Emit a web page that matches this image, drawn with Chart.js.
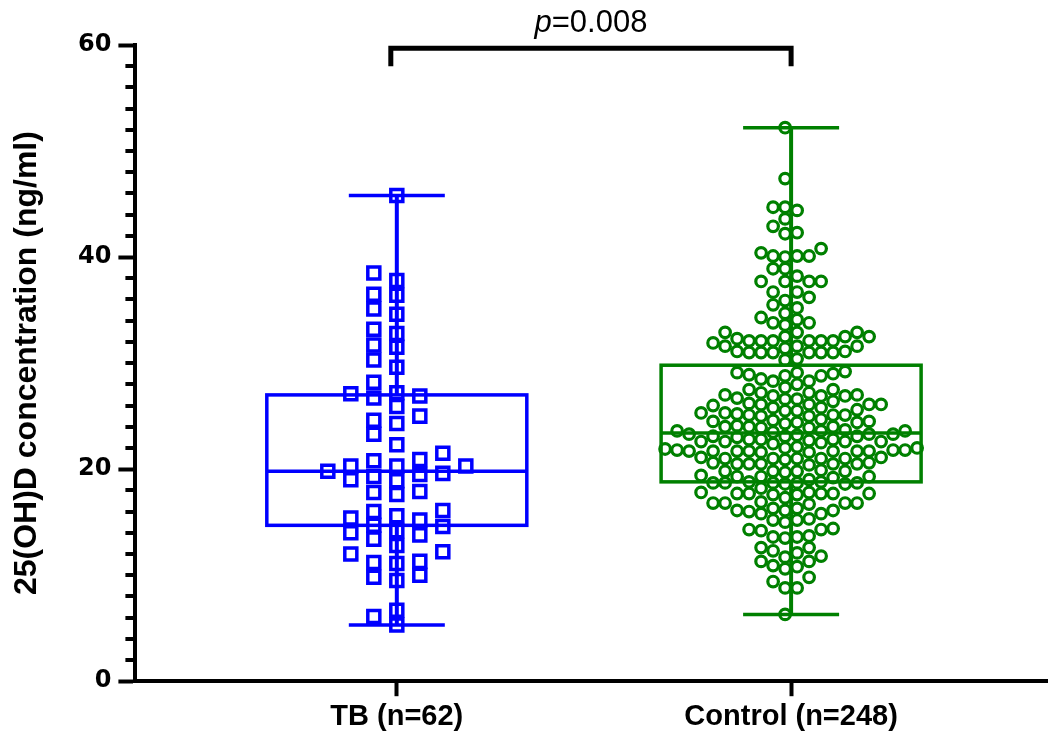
<!DOCTYPE html>
<html>
<head>
<meta charset="utf-8">
<script src="https://cdn.jsdelivr.net/npm/chart.js@4.4.0/dist/chart.umd.min.js"></script>
<style>
    html, body { margin: 0; padding: 0; background: #ffffff; }
    #wrap { width: 1049px; height: 737px; }
</style>
</head>
<body>
<div id="wrap"><canvas id="chartVitD" width="1049" height="737"></canvas></div>
<script>
const groups = ["TB (n=62)", "Control (n=248)"];
const groupColors = ["#0000ff", "#008000"];
const yTicks = [0, 20, 40, 60];
const pValue = "0.008";

// min, q1, median, q3, max
const tbBox = [5.3, 14.7, 19.8, 27.0, 45.8];
const controlBox = [6.3, 18.8, 23.4, 29.8, 52.2];

const tbValues = [
    45.8, 38.5, 37.8, 36.5, 36.4, 35.1, 34.6, 33.2, 32.8, 31.7,
    31.5, 30.3, 29.6, 28.2, 27.2, 27.1, 26.9, 26.7, 25.9, 25.0,
    24.6, 24.3, 23.3, 22.3, 21.5, 20.9, 20.8, 20.3, 20.3, 20.3,
    19.8, 19.6, 19.5, 19.3, 19.0, 18.9, 17.9, 17.8, 17.6, 16.1,
    16.0, 15.6, 15.4, 15.2, 14.7, 14.6, 14.2, 14.0, 13.8, 13.4,
    12.8, 12.2, 12.0, 11.3, 11.2, 11.1, 10.0, 9.8, 9.5, 6.7,
    6.1, 5.3
];

const controlValues = [
    52.2, 47.4, 44.7, 44.7, 44.4, 43.6, 42.9, 42.3, 42.2, 40.8,
    40.4, 40.1, 40.1, 40.1, 40.0, 38.9, 38.9, 38.2, 37.7, 37.7,
    37.7, 37.7, 36.7, 36.7, 36.2, 35.9, 35.5, 35.2, 34.7, 34.3,
    34.1, 33.8, 33.8, 33.6, 32.9, 32.9, 32.9, 32.5, 32.5, 32.5,
    32.3, 32.1, 32.1, 32.1, 32.1, 32.1, 32.1, 31.9, 31.6, 31.6,
    31.6, 31.4, 31.1, 31.1, 31.0, 31.0, 31.0, 31.0, 31.0, 31.0,
    30.4, 30.3,
    29.1, 29.1, 29.2, 29.0, 28.8, 28.8, 28.9, 28.5, 28.3, 28.3,
    28.0, 27.7, 27.5, 27.5, 27.2, 27.2, 27.0, 27.0, 26.9, 26.9,
    26.9, 26.6, 26.6, 26.7, 26.4, 26.1, 26.1, 26.2, 26.1, 26.0,
    26.1, 25.8, 25.8, 25.5, 25.5, 25.6, 25.3, 25.3, 25.2, 25.1,
    25.1, 25.1, 25.0, 25.0, 24.7, 24.5, 24.5, 24.6, 24.4, 24.4,
    24.3, 24.0, 24.0, 24.1, 24.0, 23.9, 23.9, 23.6, 23.6, 23.7,
    23.6, 23.5,
    23.3, 23.3, 23.3, 23.1, 23.1, 23.2, 23.1, 23.0, 22.8, 22.8,
    22.8, 22.6, 22.6, 22.7, 22.6, 22.5, 22.6, 22.4, 22.0, 22.0,
    22.1, 21.9, 21.7, 21.7, 21.8, 21.6, 21.7, 21.7, 21.8, 21.7,
    21.6, 21.7, 21.7, 21.8, 21.0, 21.0, 21.1, 20.9, 21.0, 21.0,
    21.1, 21.0, 20.5, 20.5, 20.6, 20.4, 20.5, 20.5, 20.5, 20.6,
    19.8, 19.8, 19.9, 19.7, 19.8, 19.8, 19.3, 19.3, 19.4, 19.2,
    19.3, 19.0,
    18.7, 18.7, 18.8, 18.6, 18.7, 18.7, 18.8, 18.6, 18.7, 18.2,
    17.7, 17.7, 17.8, 17.6, 17.7, 17.7, 17.8, 17.6, 17.7, 17.3,
    16.8, 16.8, 16.9, 16.7, 16.8, 16.8, 16.3, 16.3, 16.1, 16.1,
    16.0, 16.1, 15.8, 15.8, 15.2, 15.2, 15.3, 15.0, 14.3, 14.3,
    14.4, 14.2, 13.6, 13.6, 13.7, 13.5, 12.6, 12.6, 12.3, 12.1,
    11.8, 11.7, 11.3, 11.3, 10.9, 10.8, 10.6, 9.8, 9.4, 8.8,
    8.8, 6.3
];

// column beeswarm: each point takes the nearest free column
function swarm(values, center, stepX, gapY, halfColumns) {

    const cols = [];

    for (let k = 0; k < 40; k++) {
        if (halfColumns) {
            cols.push(-(k + 0.5), k + 0.5);
        } else if (k === 0) {
            cols.push(0);
        } else {
            cols.push(-k, k);
        }
    }

    const placed = [];

    return values.slice().sort((a, b) => a - b).map(v => {

        let col = cols[cols.length - 1];

        for (const c of cols) {
            const hit = placed.some(
                p => p.col === c && Math.abs(p.y - v) < gapY
            );
            if (!hit) {
                col = c;
                break;
            }
        }

        placed.push({ col: col, y: v });

        return { x: center + col * stepX, y: v };
    });
}

function strokeLine(ctx, x1, y1, x2, y2) {
    ctx.beginPath();
    ctx.moveTo(x1, y1);
    ctx.lineTo(x2, y2);
    ctx.stroke();
}

const boxPlugin = {
    id: "boxes",
    beforeDatasetsDraw(chart) {

        const ctx = chart.ctx;
        const x = chart.scales.x;
        const y = chart.scales.y;

        [tbBox, controlBox].forEach((stats, i) => {

            const cx = x.getPixelForValue(i + 1);
            const [lo, q1, med, q3, hi] = stats.map(v => y.getPixelForValue(v));

            ctx.save();
            ctx.strokeStyle = groupColors[i];
            ctx.lineWidth = 3.5;
            ctx.lineCap = "butt";

            ctx.strokeRect(cx - 130, q3, 260, q1 - q3);
            strokeLine(ctx, cx - 130, med, cx + 130, med);

            ctx.lineWidth = 4;
            strokeLine(ctx, cx, q1, cx, lo);
            strokeLine(ctx, cx, q3, cx, hi);

            ctx.lineWidth = 3.5;
            strokeLine(ctx, cx - 48, lo, cx + 48, lo);
            strokeLine(ctx, cx - 48, hi, cx + 48, hi);

            ctx.restore();
        });
    }
};

const extrasPlugin = {
    id: "extras",
    afterDraw(chart) {

        const ctx = chart.ctx;
        const x = chart.scales.x;
        const y = chart.scales.y;
        const left = chart.chartArea.left;

        ctx.save();
        ctx.strokeStyle = "#000000";
        ctx.lineWidth = 4;

        // minor ticks every 2
        for (let v = 2; v < 60; v += 2) {
            if (v % 20 === 0) continue;
            const py = Math.round(y.getPixelForValue(v));
            strokeLine(ctx, left - 10, py, left, py);
        }

        // significance bracket
        const x1 = x.getPixelForValue(1) - 6;
        const x2 = x.getPixelForValue(2);
        const yTop = y.getPixelForValue(59.7);
        const yLeg = y.getPixelForValue(58.0);

        ctx.lineWidth = 5;
        ctx.lineJoin = "miter";
        ctx.beginPath();
        ctx.moveTo(x1, yLeg);
        ctx.lineTo(x1, yTop);
        ctx.lineTo(x2, yTop);
        ctx.lineTo(x2, yLeg);
        ctx.stroke();

        const italic = "italic 31px 'Liberation Sans', Arial, sans-serif";
        const normal = "31px 'Liberation Sans', Arial, sans-serif";
        const rest = "=" + pValue;

        ctx.font = italic;
        const wP = ctx.measureText("p").width;
        ctx.font = normal;
        const wRest = ctx.measureText(rest).width;

        const tx = (x1 + x2) / 2 - (wP + wRest) / 2;
        const ty = y.getPixelForValue(61.2);

        ctx.fillStyle = "#000000";
        ctx.textBaseline = "alphabetic";
        ctx.textAlign = "left";
        ctx.font = italic;
        ctx.fillText("p", tx, ty);
        ctx.font = normal;
        ctx.fillText(rest, tx + wP, ty);

        ctx.restore();
    }
};

Chart.defaults.font.family = "'Liberation Sans', Arial, sans-serif";
Chart.defaults.color = "#000000";

const chart = new Chart(
    document.getElementById("chartVitD"),
    {
        type: "scatter",

        data: {
            datasets: [
                {
                    label: groups[0],
                    data: [],
                    pointStyle: "rect",
                    pointRadius: 8.5,
                    pointBorderWidth: 3.5,
                    pointBorderColor: groupColors[0],
                    pointBackgroundColor: "rgba(0,0,0,0)",
                    pointHoverRadius: 8.5
                },
                {
                    label: groups[1],
                    data: [],
                    pointStyle: "circle",
                    pointRadius: 5.3,
                    pointBorderWidth: 3.2,
                    pointBorderColor: groupColors[1],
                    pointBackgroundColor: "rgba(0,0,0,0)",
                    pointHoverRadius: 5.3
                }
            ]
        },

        options: {
            responsive: false,
            animation: false,
            devicePixelRatio: 1,

            layout: {
                autoPadding: false,
                padding: { left: 0, right: 2, top: 45, bottom: 0 }
            },

            plugins: {
                legend: { display: false },
                tooltip: { enabled: false }
            },

            scales: {
                x: {
                    type: "linear",
                    min: 0.337,
                    max: 2.649,
                    afterBuildTicks: scale => {
                        scale.ticks = [{ value: 1 }, { value: 2 }];
                    },
                    ticks: {
                        callback: v => groups[v - 1],
                        font: { size: 29, weight: "bold" },
                        color: "#000000",
                        padding: 3,
                        maxRotation: 0
                    },
                    grid: {
                        drawOnChartArea: false,
                        tickLength: 15,
                        tickWidth: 4,
                        tickColor: "#000000"
                    },
                    border: { width: 4, color: "#000000" }
                },
                y: {
                    min: 0,
                    max: 60,
                    afterBuildTicks: scale => {
                        scale.ticks = yTicks.map(v => ({ value: v }));
                    },
                    ticks: {
                        font: { family: "'DejaVu Sans'", size: 24, weight: "bold" },
                        color: "#000000",
                        padding: 7
                    },
                    grid: {
                        drawOnChartArea: false,
                        tickLength: 17,
                        tickWidth: 4,
                        tickColor: "#000000"
                    },
                    border: { width: 4, color: "#000000" },
                    title: {
                        display: true,
                        text: "25(OH)D concentration (ng/ml)",
                        font: { size: 32, weight: "bold", lineHeight: 1 },
                        color: "#000000",
                        padding: { top: 11.5, bottom: 27.5 }
                    }
                }
            }
        },

        plugins: [boxPlugin, extrasPlugin]
    }
);

function layoutSwarms() {

    const x = chart.scales.x;
    const y = chart.scales.y;

    const pxX = x.getPixelForValue(2) - x.getPixelForValue(1);
    const pxY = y.getPixelForValue(0) - y.getPixelForValue(1);

    chart.data.datasets[0].data = swarm(tbValues, 1, 23 / pxX, 13 / pxY, false);
    chart.data.datasets[1].data = swarm(controlValues, 2, 12 / pxX, 11 / pxY, true);

    chart.update();
}

layoutSwarms();
</script>
</body>
</html>
